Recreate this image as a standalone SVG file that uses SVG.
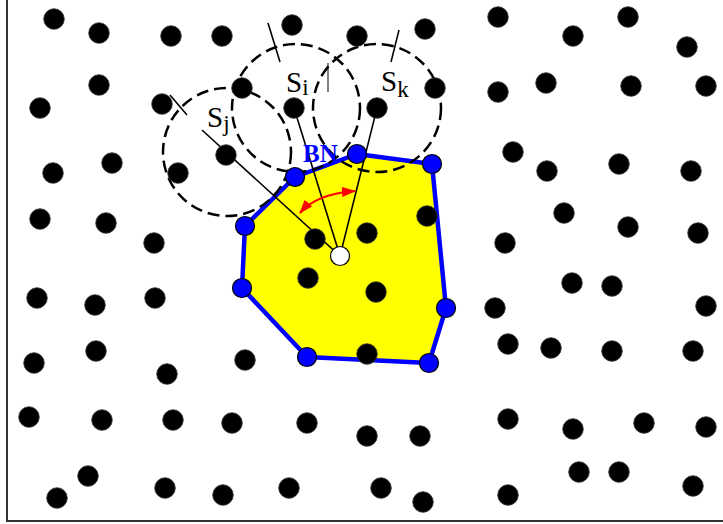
<svg xmlns="http://www.w3.org/2000/svg" width="723" height="524" viewBox="0 0 723 524">
<style>
.d{fill:#000;stroke:#333;stroke-width:0.8}
.b{fill:#0000ff;stroke:#000;stroke-width:1.2}
.w{fill:#fff;stroke:#000;stroke-width:1.2}
.dc{fill:none;stroke:#000;stroke-width:2.5;stroke-dasharray:12 6}
.ln{stroke:#000;stroke-width:1.6;fill:none}
.lb{font-family:"Liberation Serif","Times New Roman",serif;font-size:29px;fill:#000}
</style>
<defs>
<marker id="ah" viewBox="0 0 14 10" refX="13" refY="5" markerWidth="14" markerHeight="10" markerUnits="userSpaceOnUse" orient="auto-start-reverse">
<path d="M0,0 L14,5 L0,10 z" fill="#ff0000"/>
</marker>
</defs>
<rect width="723" height="524" fill="#fff"/>
<path d="M7,0 V521 H723" fill="none" stroke="#333" stroke-width="2"/>
<g id="region">
<polygon points="357,154 432,164 446,308 429,363 307,357 242,288 245,226 295,177" fill="#ffff00" stroke="#0000ff" stroke-width="4.5" stroke-linejoin="round"/>
</g>
<g id="ranges">
<circle class="dc" cx="227" cy="152" r="64"/>
<circle class="dc" cx="296" cy="108" r="64"/>
<circle class="dc" cx="377" cy="108" r="64"/>
</g>
<g id="connectors">
<line class="ln" x1="340" y1="256" x2="202" y2="130"/>
<line class="ln" x1="170" y1="95" x2="187" y2="115"/>
<line class="ln" x1="340" y1="256" x2="294" y2="108"/>
<line class="ln" x1="268" y1="23" x2="280" y2="62"/>
<line class="ln" x1="340" y1="256" x2="377" y2="108"/>
<line class="ln" x1="399" y1="30" x2="391" y2="62"/>
<line x1="328" y1="63" x2="328" y2="92" stroke="#000" stroke-width="1"/>
<path d="M300,213 Q316,194 355,191" fill="none" stroke="#ff0000" stroke-width="2.2" marker-start="url(#ah)" marker-end="url(#ah)"/>
</g>
<g id="sensors">
<g id="n1"><circle class="d" cx="54" cy="19" r="10.3"/></g>
<g id="n2"><circle class="d" cx="99" cy="33" r="10.3"/></g>
<g id="n3"><circle class="d" cx="171" cy="36" r="10.3"/></g>
<g id="n4"><circle class="d" cx="222" cy="36" r="10.3"/></g>
<g id="n5"><circle class="d" cx="292" cy="25" r="10.3"/></g>
<g id="n6"><circle class="d" cx="357" cy="36" r="10.3"/></g>
<g id="n7"><circle class="d" cx="425" cy="29" r="10.3"/></g>
<g id="n8"><circle class="d" cx="498" cy="17" r="10.3"/></g>
<g id="n9"><circle class="d" cx="573" cy="36" r="10.3"/></g>
<g id="n10"><circle class="d" cx="628" cy="17" r="10.3"/></g>
<g id="n11"><circle class="d" cx="687" cy="47" r="10.3"/></g>
<g id="n12"><circle class="d" cx="99" cy="85" r="10.3"/></g>
<g id="n13"><circle class="d" cx="40" cy="108" r="10.3"/></g>
<g id="n14"><circle class="d" cx="162" cy="104" r="10.3"/></g>
<g id="n15"><circle class="d" cx="242" cy="88" r="10.3"/></g>
<g id="si"><circle class="d" cx="294" cy="108" r="10.3"/></g>
<g id="sk"><circle class="d" cx="377" cy="108" r="10.3"/></g>
<g id="n18"><circle class="d" cx="435" cy="88" r="10.3"/></g>
<g id="n19"><circle class="d" cx="498" cy="92" r="10.3"/></g>
<g id="n20"><circle class="d" cx="546" cy="83" r="10.3"/></g>
<g id="n21"><circle class="d" cx="631" cy="86" r="10.3"/></g>
<g id="n22"><circle class="d" cx="706" cy="86" r="10.3"/></g>
<g id="sj"><circle class="d" cx="226" cy="155" r="10.3"/></g>
<g id="n24"><circle class="d" cx="112" cy="163" r="10.3"/></g>
<g id="n25"><circle class="d" cx="53" cy="173" r="10.3"/></g>
<g id="n26"><circle class="d" cx="178" cy="173" r="10.3"/></g>
<g id="n27"><circle class="d" cx="513" cy="152" r="10.3"/></g>
<g id="n28"><circle class="d" cx="547" cy="171" r="10.3"/></g>
<g id="n29"><circle class="d" cx="619" cy="164" r="10.3"/></g>
<g id="n30"><circle class="d" cx="691" cy="171" r="10.3"/></g>
<g id="n31"><circle class="d" cx="40" cy="219" r="10.3"/></g>
<g id="n32"><circle class="d" cx="106" cy="223" r="10.3"/></g>
<g id="n33"><circle class="d" cx="154" cy="243" r="10.3"/></g>
<g id="n34"><circle class="d" cx="427" cy="216" r="10.3"/></g>
<g id="n35"><circle class="d" cx="315" cy="239" r="10.3"/></g>
<g id="n36"><circle class="d" cx="367" cy="233" r="10.3"/></g>
<g id="n37"><circle class="d" cx="564" cy="213" r="10.3"/></g>
<g id="n38"><circle class="d" cx="628" cy="227" r="10.3"/></g>
<g id="n39"><circle class="d" cx="698" cy="233" r="10.3"/></g>
<g id="n40"><circle class="d" cx="505" cy="243" r="10.3"/></g>
<g id="n41"><circle class="d" cx="37" cy="298" r="10.3"/></g>
<g id="n42"><circle class="d" cx="95" cy="305" r="10.3"/></g>
<g id="n43"><circle class="d" cx="155" cy="298" r="10.3"/></g>
<g id="n44"><circle class="d" cx="308" cy="278" r="10.3"/></g>
<g id="n45"><circle class="d" cx="376" cy="292" r="10.3"/></g>
<g id="n46"><circle class="d" cx="572" cy="283" r="10.3"/></g>
<g id="n47"><circle class="d" cx="612" cy="286" r="10.3"/></g>
<g id="n48"><circle class="d" cx="706" cy="306" r="10.3"/></g>
<g id="n49"><circle class="d" cx="495" cy="308" r="10.3"/></g>
<g id="n50"><circle class="d" cx="34" cy="363" r="10.3"/></g>
<g id="n51"><circle class="d" cx="96" cy="351" r="10.3"/></g>
<g id="n52"><circle class="d" cx="167" cy="374" r="10.3"/></g>
<g id="n53"><circle class="d" cx="245" cy="360" r="10.3"/></g>
<g id="n54"><circle class="d" cx="367" cy="354" r="10.3"/></g>
<g id="n55"><circle class="d" cx="508" cy="344" r="10.3"/></g>
<g id="n56"><circle class="d" cx="551" cy="348" r="10.3"/></g>
<g id="n57"><circle class="d" cx="612" cy="351" r="10.3"/></g>
<g id="n58"><circle class="d" cx="693" cy="351" r="10.3"/></g>
<g id="n59"><circle class="d" cx="29" cy="417" r="10.3"/></g>
<g id="n60"><circle class="d" cx="102" cy="420" r="10.3"/></g>
<g id="n61"><circle class="d" cx="173" cy="420" r="10.3"/></g>
<g id="n62"><circle class="d" cx="232" cy="423" r="10.3"/></g>
<g id="n63"><circle class="d" cx="307" cy="423" r="10.3"/></g>
<g id="n64"><circle class="d" cx="367" cy="436" r="10.3"/></g>
<g id="n65"><circle class="d" cx="420" cy="436" r="10.3"/></g>
<g id="n66"><circle class="d" cx="508" cy="419" r="10.3"/></g>
<g id="n67"><circle class="d" cx="573" cy="429" r="10.3"/></g>
<g id="n68"><circle class="d" cx="644" cy="423" r="10.3"/></g>
<g id="n69"><circle class="d" cx="706" cy="427" r="10.3"/></g>
<g id="n70"><circle class="d" cx="88" cy="476" r="10.3"/></g>
<g id="n71"><circle class="d" cx="57" cy="498" r="10.3"/></g>
<g id="n72"><circle class="d" cx="165" cy="488" r="10.3"/></g>
<g id="n73"><circle class="d" cx="223" cy="495" r="10.3"/></g>
<g id="n74"><circle class="d" cx="289" cy="488" r="10.3"/></g>
<g id="n75"><circle class="d" cx="381" cy="488" r="10.3"/></g>
<g id="n76"><circle class="d" cx="423" cy="502" r="10.3"/></g>
<g id="n77"><circle class="d" cx="579" cy="472" r="10.3"/></g>
<g id="n78"><circle class="d" cx="619" cy="472" r="10.3"/></g>
<g id="n79"><circle class="d" cx="693" cy="486" r="10.3"/></g>
<g id="n80"><circle class="d" cx="508" cy="495" r="10.3"/></g>
</g>
<g id="boundary-nodes">
<g id="bn1"><circle class="b" cx="357" cy="154" r="9.5"/></g>
<g id="bn2"><circle class="b" cx="432" cy="164" r="9.5"/></g>
<g id="bn3"><circle class="b" cx="446" cy="308" r="9.5"/></g>
<g id="bn4"><circle class="b" cx="429" cy="363" r="9.5"/></g>
<g id="bn5"><circle class="b" cx="307" cy="357" r="9.5"/></g>
<g id="bn6"><circle class="b" cx="242" cy="288" r="9.5"/></g>
<g id="bn7"><circle class="b" cx="245" cy="226" r="9.5"/></g>
<g id="bn8"><circle class="b" cx="295" cy="177" r="9.5"/></g>
</g>
<g id="center"><circle class="w" cx="340" cy="256" r="9.5"/></g>
<g id="labels">
<text class="lb" x="207" y="127">S<tspan font-size="23" dy="4">j</tspan></text>
<text class="lb" x="286" y="92">S<tspan font-size="23" dy="3">i</tspan></text>
<text class="lb" x="381" y="91">S<tspan font-size="23" dy="6">k</tspan></text>
<text x="303" y="162" font-family="Liberation Serif, Times New Roman, serif" font-weight="bold" font-size="25" fill="#0000ff">BN</text>
</g>
</svg>
